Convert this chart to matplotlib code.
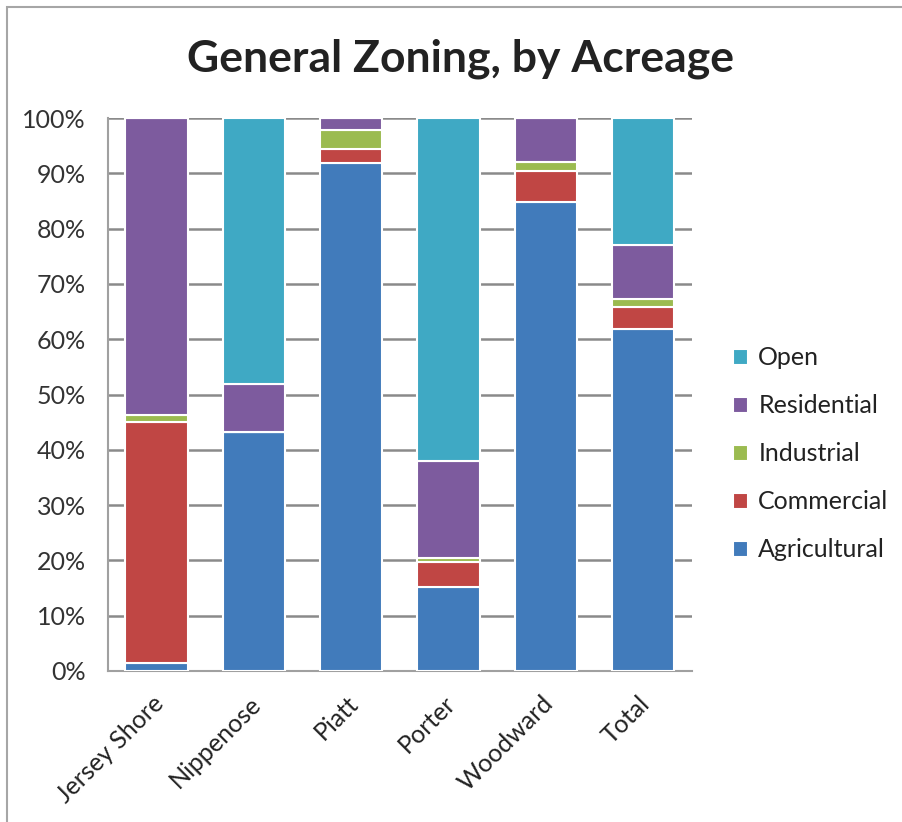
import matplotlib.pyplot as plt
import matplotlib.transforms as mtransforms
from matplotlib.patches import Rectangle
import numpy as np

plt.rcParams['font.family'] = ['Lato', 'DejaVu Sans']

# Data (percent of acreage)
towns = ['Jersey Shore', 'Nippenose', 'Piatt', 'Porter', 'Woodward', 'Total']
agricultural = [1.4, 43.2, 91.9, 15.2, 84.8, 61.8]
commercial = [43.6, 0.0, 2.5, 4.5, 5.6, 4.0]
industrial = [1.3, 0.0, 3.4, 0.7, 1.6, 1.4]
residential = [53.7, 8.7, 2.2, 17.6, 8.0, 9.8]
open_space = [0.0, 48.1, 0.0, 62.0, 0.0, 23.0]

series = [
    ('Agricultural', agricultural, '#417BBB'),
    ('Commercial', commercial, '#C04644'),
    ('Industrial', industrial, '#9BBB50'),
    ('Residential', residential, '#7D5B9E'),
    ('Open', open_space, '#3FA9C4'),
]

fig = plt.figure(figsize=(9.02, 8.22), dpi=100)
ax = fig.add_axes([0.1197, 0.1837, 0.6473, 0.6727])

x = np.arange(len(towns))
bottom = np.zeros(len(towns))
handles = []
for name, vals, color in series:
    vals = np.array(vals)
    b = ax.bar(x, vals, 0.64, bottom=bottom, color=color, edgecolor='white',
               linewidth=1.5, label=name, zorder=3)
    handles.append(b)
    bottom += vals

ax.set_xlim(-0.5, len(towns) - 0.5)
ax.set_ylim(0, 100)
ax.set_yticks(np.arange(0, 101, 10))
ax.set_yticklabels([f'{v}%' for v in range(0, 101, 10)], fontsize=18, color='#333333')
ax.set_xticks(x)
ax.set_xticklabels(towns, rotation=45, ha='right', rotation_mode='anchor',
                   fontsize=18, color='#222222')
ax.tick_params(axis='y', length=0, pad=16)
ax.tick_params(axis='x', length=0, pad=15)
shift = mtransforms.ScaledTranslation(-5 / 100, 0, fig.dpi_scale_trans)
for lab in ax.get_xticklabels():
    lab.set_transform(lab.get_transform() + shift)
ax.yaxis.grid(True, color='#8a8a8a', linewidth=1.8, zorder=0)
for s in ['top', 'right']:
    ax.spines[s].set_visible(False)
ax.spines['left'].set_color('#a0a0a0')
ax.spines['bottom'].set_color('#a0a0a0')
ax.spines['left'].set_linewidth(1.5)
ax.spines['bottom'].set_linewidth(1.5)

fig.text(0.51, 0.929, 'General Zoning, by Acreage', ha='center', va='center',
         fontsize=32, fontweight='bold', color='#222222')

leg = fig.legend(handles[::-1], [s[0] for s in series][::-1], loc='center left',
                 bbox_to_anchor=(0.788, 0.4477), frameon=False, fontsize=18,
                 handlelength=0.6, handleheight=0.6, handletextpad=0.4,
                 labelspacing=1.0, labelcolor='#222222')

# outer frame (left and top edge visible)
fig.add_artist(Rectangle((7 / 902, -0.01), 1.0, 1 - 7 / 822 + 0.01,
                         transform=fig.transFigure, fill=False,
                         edgecolor='#a6a6a6', linewidth=1.5))

fig.savefig('out.png', dpi=100, facecolor='white')
